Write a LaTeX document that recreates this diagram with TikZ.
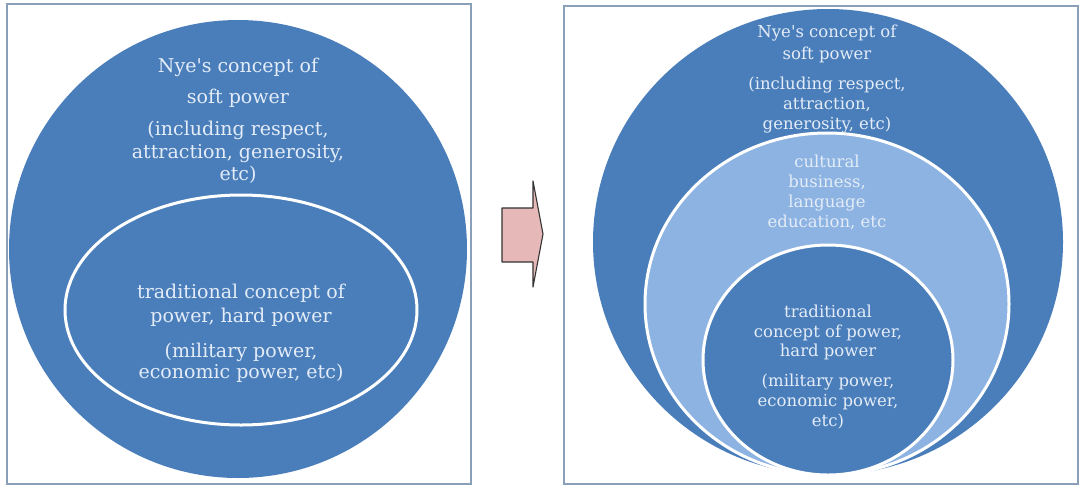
\documentclass[tikz,border=0pt]{standalone}
\usepackage{fontspec}
\setmainfont{DejaVu Serif}
\definecolor{bigblue}{HTML}{4A7EBB}
\definecolor{lightblue}{HTML}{8DB3E2}
\definecolor{txtc}{HTML}{E3ECF7}
\definecolor{framec}{HTML}{8A9FB8}
\definecolor{arrowfill}{HTML}{E6B9B8}
\tikzset{
  frame/.style={draw=framec, line width=1.6pt, fill=white},
  blob/.style={fill=bigblue, draw=none},
  ring/.style={draw=white, line width=3pt},
  lbl/.style={text=txtc, align=center, inner sep=0pt},
}
\begin{document}
\begin{tikzpicture}[x=1pt,y=-1pt]
\useasboundingbox (0,0) rectangle (1084,488);
\fill[white] (0,0) rectangle (1084,488);
% left panel
\draw[frame] (7,4) rectangle (471,484);
\path[blob] (238,249) ellipse [x radius=229, y radius=229];
\path[blob,ring] (241,310) ellipse [x radius=176, y radius=115];
\node[lbl, font=\fontsize{19}{31}\selectfont] (softL) at (238,82.5) {Nye\textquotesingle s concept of\\soft power};
\node[lbl, font=\fontsize{19}{22.5}\selectfont] (softLx) at (238,152.5) {(including respect,\\attraction, generosity,\\etc)};
\node[lbl, font=\fontsize{19}{24}\selectfont] (hardL) at (241,305) {traditional concept of\\power, hard power};
\node[lbl, font=\fontsize{19}{21}\selectfont] (hardLx) at (241,362.5) {(military power,\\economic power, etc)};
% arrow
\draw[fill=arrowfill, draw=black!80, line width=1.1pt, line join=round] (502,208) -- (533,208) -- (533,181) -- (543,234) -- (533,287) -- (533,262) -- (502,262) -- cycle;
% right panel
\draw[frame] (564,6) rectangle (1078,484);
\path[blob] (828,242) ellipse [x radius=235, y radius=233];
\path[fill=lightblue,ring] (827,304) ellipse [x radius=182, y radius=171];
\path[blob,ring] (828,360) ellipse [x radius=125, y radius=115];
\node[lbl, font=\fontsize{16.5}{22}\selectfont] (softR) at (827,44) {Nye\textquotesingle s concept of\\soft power};
\node[lbl, font=\fontsize{16.5}{20}\selectfont] (softRx) at (827,105) {(including respect,\\attraction,\\generosity, etc)};
\node[lbl, font=\fontsize{16.5}{20}\selectfont] (midR) at (827,192) {cultural\\business,\\language\\education, etc};
\node[lbl, font=\fontsize{16.5}{19.5}\selectfont] (hardR) at (828,332.5) {traditional\\concept of power,\\hard power};
\node[lbl, font=\fontsize{16.5}{20}\selectfont] (hardRx) at (828,402) {(military power,\\economic power,\\etc)};
\end{tikzpicture}
\end{document}
